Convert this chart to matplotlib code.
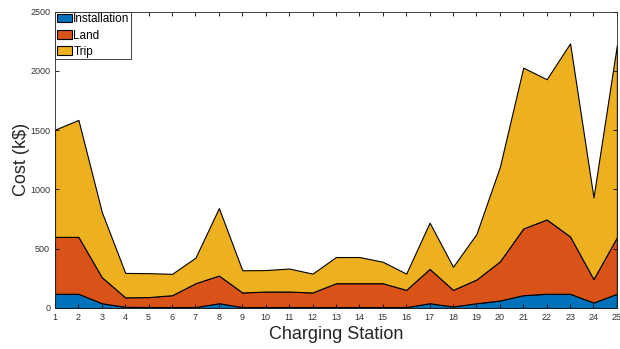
import numpy as np
import matplotlib
matplotlib.use('Agg')
import matplotlib.pyplot as plt

plt.rcParams['font.family'] = ['Liberation Sans', 'DejaVu Sans']

# data (k$)
stations = list(range(1, 26))
installation = [120, 120, 40, 10, 8, 8, 8, 40, 8, 8, 8, 8, 8, 8, 8, 8, 40, 13, 40, 63, 108, 120, 120, 46, 120]
land = [600, 600, 260, 90, 92, 108, 209, 274, 131, 139, 139, 131, 209, 209, 209, 153, 330, 153, 240, 393, 671, 747, 604, 244, 596]
total = [1505, 1587, 810, 296, 294, 288, 425, 843, 318, 320, 333, 290, 430, 430, 390, 290, 720, 348, 624, 1190, 2028, 1930, 2233, 933, 2219]
labels = ['Installation', 'Land', 'Trip']
colors = ['#0072BD', '#D95319', '#EDB120']

inst = np.array(installation)
land_part = np.array(land) - inst
trip_part = np.array(total) - np.array(land)

fig = plt.figure(figsize=(6.2, 3.49), dpi=100)
ax = fig.add_axes([0.0887, 0.1175, 0.9063, 0.849])

ax.stackplot(stations, inst, land_part, trip_part, labels=labels, colors=colors,
             edgecolor='black', linewidth=0.8)

ax.set_xlim(1, 25)
ax.set_ylim(0, 2500)
ax.set_xticks(stations)
ax.set_yticks(np.arange(0, 2501, 500))
ax.tick_params(direction='in', top=True, right=True, labelsize=6.5,
               labelcolor='#333333', length=3, width=0.6)
for s in ax.spines.values():
    s.set_linewidth(0.6)
    s.set_color('#262626')

ax.set_xlabel('Charging Station', fontsize=13, color='#262626', labelpad=3)
ax.set_ylabel('Cost (k$)', fontsize=13, color='#262626', labelpad=0)

leg = ax.legend(loc='upper left', fontsize=8.5, fancybox=False, edgecolor='#262626',
                framealpha=1, borderaxespad=0, handlelength=1.3, handleheight=0.7,
                handletextpad=0.1, borderpad=0.15, labelspacing=0.35)
leg.get_frame().set_linewidth(0.6)

fig.savefig('out.png', dpi=100)
